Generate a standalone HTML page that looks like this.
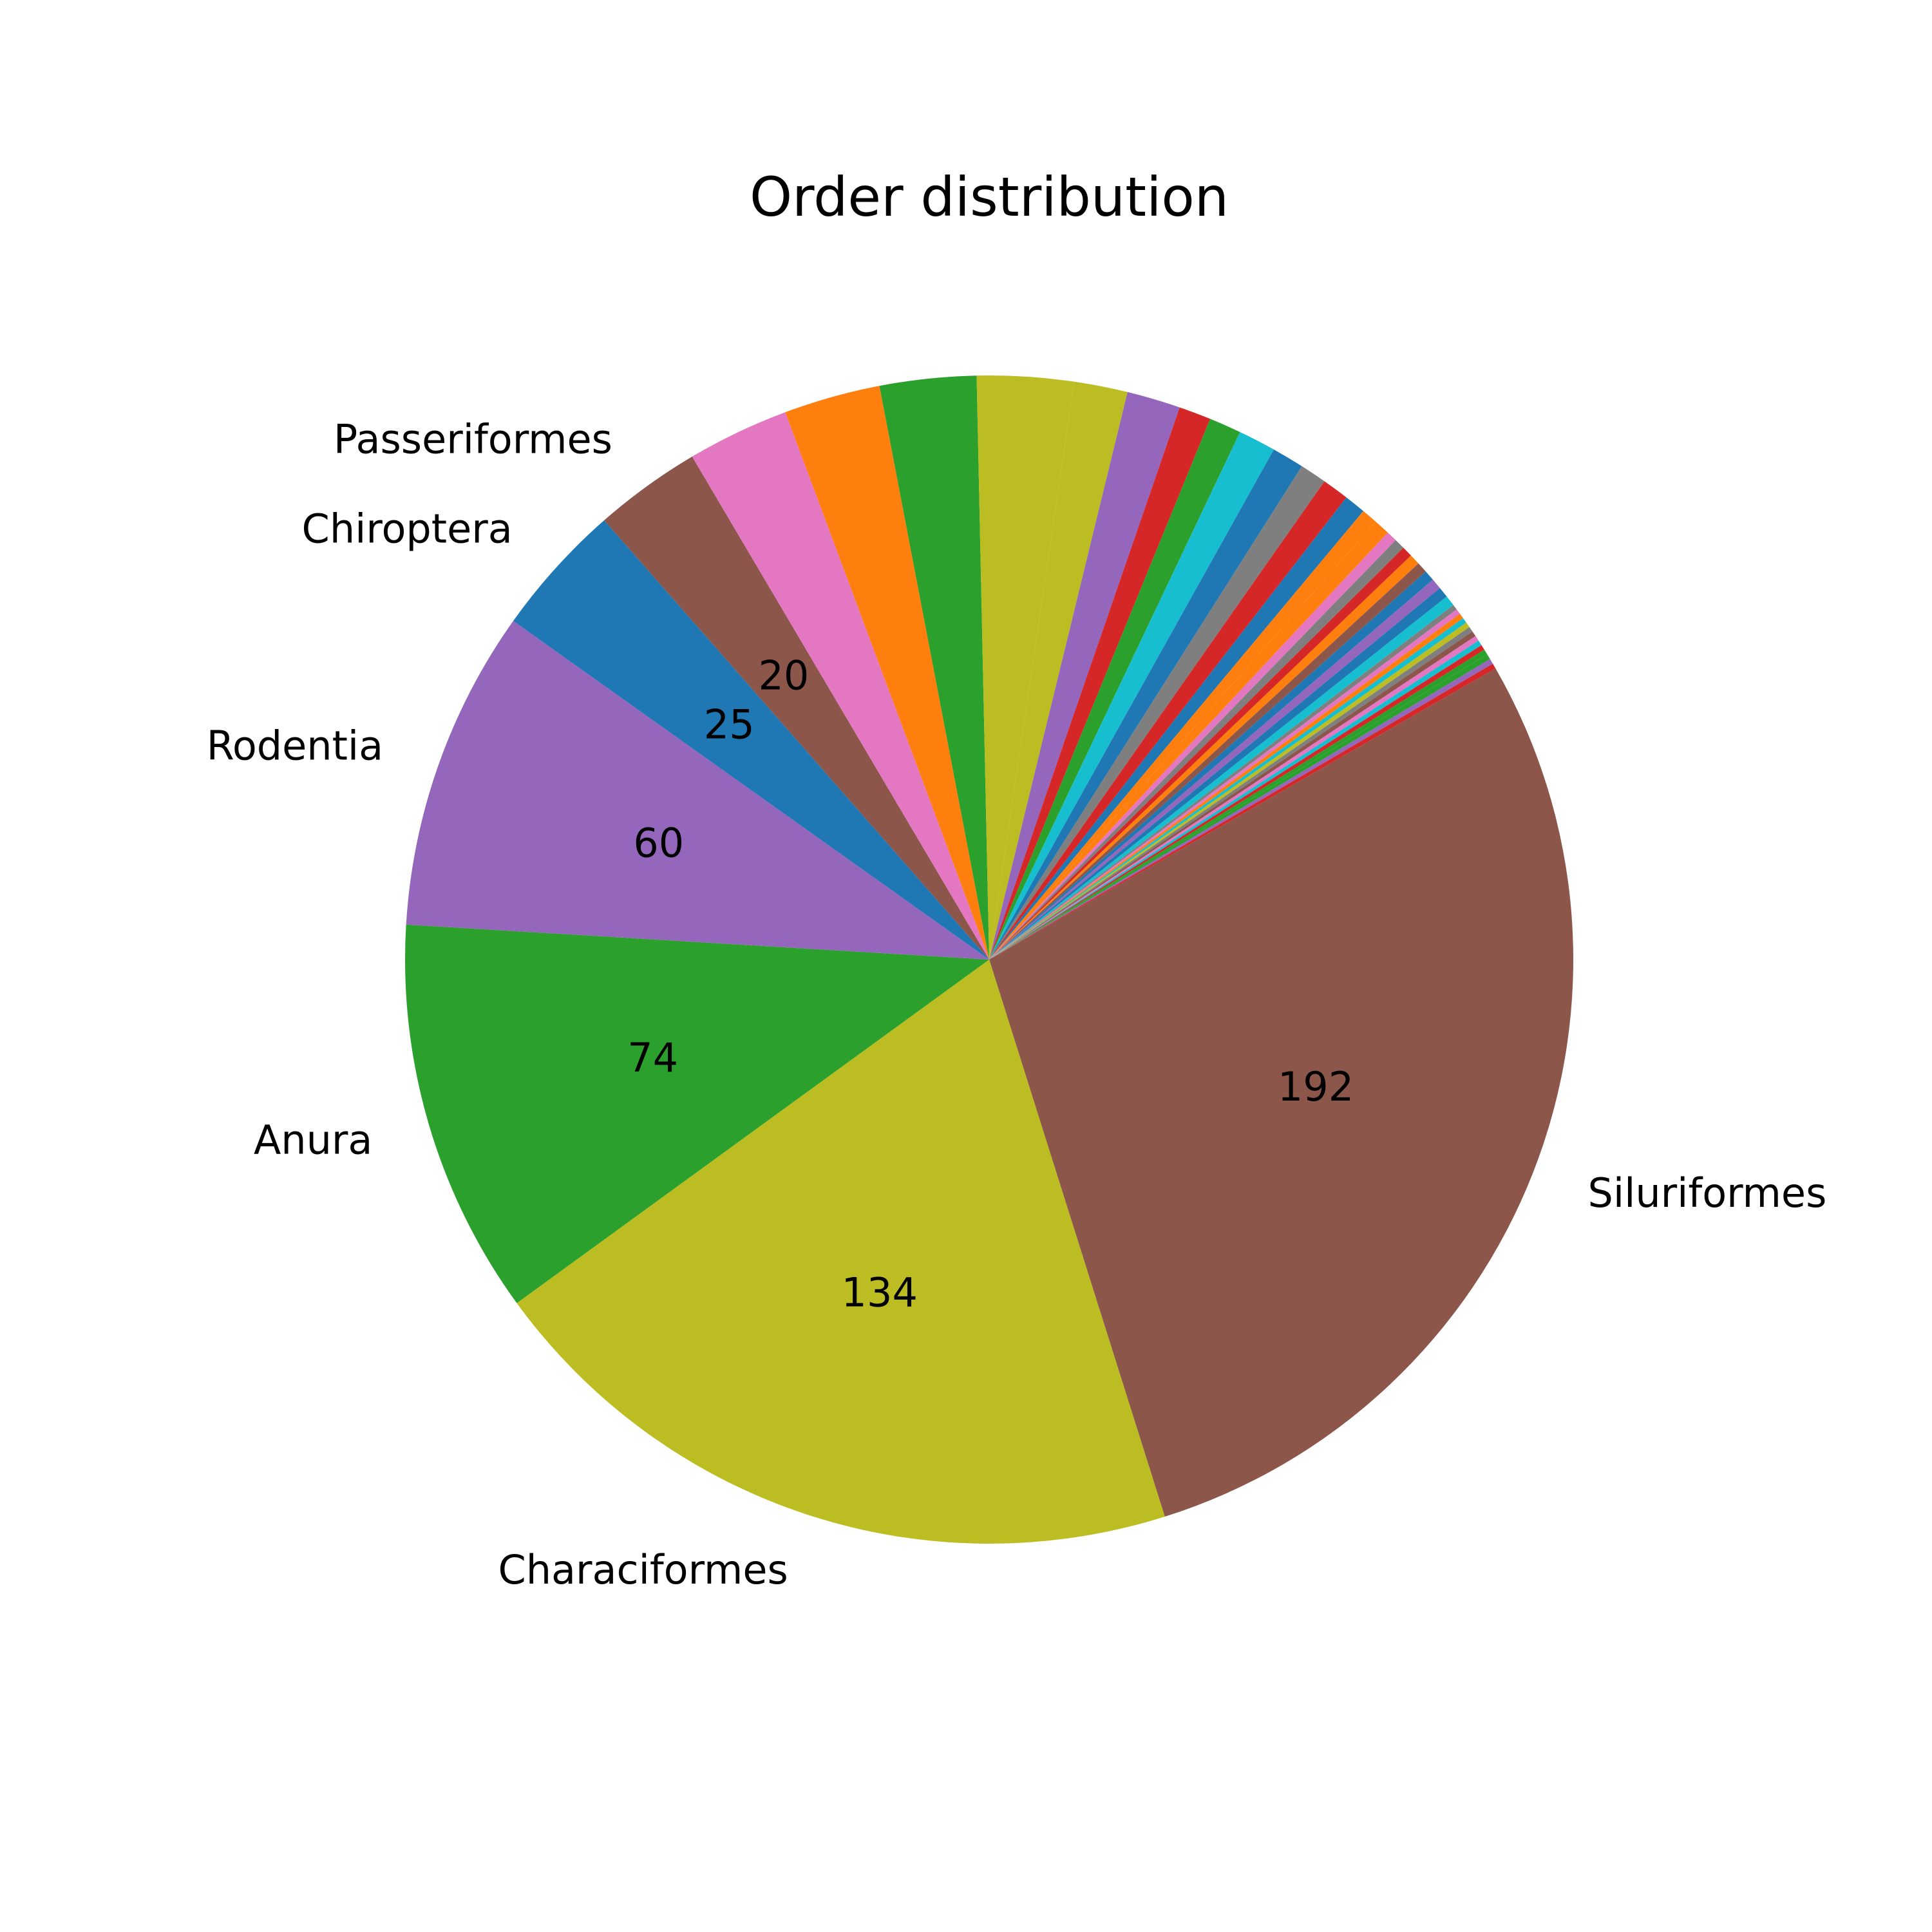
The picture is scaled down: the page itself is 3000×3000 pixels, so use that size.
<!DOCTYPE html>
<html><head><meta charset="utf-8"><style>
html,body{margin:0;padding:0;background:#fff;}
svg{display:block;font-family:"DejaVu Sans","Liberation Sans",sans-serif;}
</style></head><body>
<svg id="chart" width="3000" height="3000" viewBox="0 0 3000 3000" xmlns="http://www.w3.org/2000/svg">
<rect width="3000" height="3000" fill="#fff"/>
<text x="1536" y="306" font-size="84" text-anchor="middle" dominant-baseline="central">Order distribution</text>
<g id="slices"></g>
<g id="labels"></g>
</svg>
<script>
const categories = ["Siluriformes","Characiformes","Anura","Rodentia","Chiroptera","Passeriformes",
"o7","o8","o9","o10","o11","o12","o13","o14","o15","o16","o17","o18",
"o19","o20","o21","o22","o23","o24","o25","o26","o27","o28","o29","o30",
"o31","o32","o33","o34","o35","o36","o37","o38","o39","o40","o41","o42","o43","o44"];
const counts = [192,134,74,60,25,20,
19,18,18,18,10,10,6,6,7,6,5,5,
4,3,3,2,2,2,2,2,2,2,2,2,
1,1,1,1,1,1,1,1,1,1,1,1,1,1];
const sliceColors = ["#8c564b","#bcbd22","#2ca02c","#9467bd","#1f77b4","#8c564b",
"#e377c2","#ff7f0e","#2ca02c","#bcbd22","#bcbd22","#9467bd","#d62728","#2ca02c","#17becf","#1f77b4","#7f7f7f","#d62728",
"#1f77b4","#ff7f0e","#ff7f0e","#e377c2","#7f7f7f","#d62728","#ff7f0e","#8c564b","#1f77b4","#9467bd","#1f77b4","#17becf",
"#7f7f7f","#e377c2","#ff7f0e","#17becf","#bcbd22","#7f7f7f","#8c564b","#e377c2","#17becf","#d62728","#2ca02c","#2ca02c","#9467bd","#d62728"];
const labeledCount = 6;

const cx = 1536, cy = 1490, R = 907, startAngle = 29.9;
const NS = "http://www.w3.org/2000/svg";
const total = counts.reduce((a,b)=>a+b,0);
function angleOf(cum){ return startAngle - cum/total*360; }
function pt(deg, r){ const a = deg*Math.PI/180; return [cx + r*Math.cos(a), cy - r*Math.sin(a)]; }
const gS = document.getElementById('slices'), gL = document.getElementById('labels');
let cum = 0;
counts.forEach((v,i)=>{
  const a1 = angleOf(cum), a2 = angleOf(cum+v);
  cum += v;
  const p1 = pt(a1,R), p2 = pt(a2,R);
  const large = (a1-a2) > 180 ? 1 : 0;
  const path = document.createElementNS(NS,'path');
  path.setAttribute('d', `M${cx},${cy} L${p1[0]},${p1[1]} A${R},${R} 0 ${large} 1 ${p2[0]},${p2[1]} Z`);
  path.setAttribute('fill', sliceColors[i]);
  
  
  gS.appendChild(path);
  if (i < labeledCount) {
    const mid = (a1+a2)/2;
    const lp = pt(mid, 1.1*R);
    const t = document.createElementNS(NS,'text');
    t.setAttribute('x', lp[0]); t.setAttribute('y', lp[1]);
    t.setAttribute('font-size', '62');
    t.setAttribute('dominant-baseline', 'central');
    t.setAttribute('text-anchor', lp[0] < cx ? 'end' : 'start');
    t.textContent = categories[i];
    
    
    gL.appendChild(t);
    const vp = pt(mid, 0.6*R);
    const n = document.createElementNS(NS,'text');
    n.setAttribute('x', vp[0]); n.setAttribute('y', vp[1]);
    n.setAttribute('font-size', '62');
    n.setAttribute('dominant-baseline', 'central');
    n.setAttribute('text-anchor', 'middle');
    n.textContent = String(v);
    
    
    gL.appendChild(n);
  }
});
</script>
</body></html>
